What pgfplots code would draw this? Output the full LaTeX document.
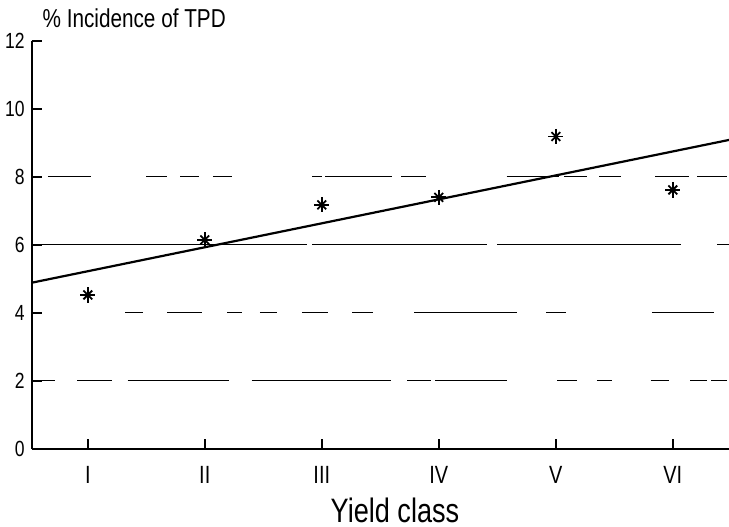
\documentclass[border=0pt]{standalone}
\usepackage{fontspec}
\setmainfont{Liberation Sans}[FakeStretch=0.8]
\usepackage{pgfplots}
\pgfplotsset{compat=1.18}
\begin{document}
\begin{tikzpicture}
\useasboundingbox (-15.8bp,-39bp) rectangle (348.7bp,224.5bp);
\begin{axis}[
  at={(0,0)}, anchor=south west,
  scale only axis, width=348.7bp, height=204bp,
  xmin=0.52, xmax=6.48, ymin=0, ymax=12,
  axis x line*=bottom, axis y line*=left,
  axis line style={line width=1bp, -},
  xtick={1,2,3,4,5,6}, xticklabels={I,II,III,IV,V,VI},
  ytick={0,2,4,6,8,10,12},
  tick align=inside, major tick length=5bp,
  tick style={black, line width=0.8bp},
  /pgf/number format/assume math mode=true,
  yticklabel style={font=\fontsize{11}{13}\selectfont},
  xticklabel style={font=\fontsize{12.5}{14}\selectfont, yshift=-5bp},
  unbounded coords=jump,
]
% broken horizontal guide lines
\addplot[black, line width=0.5bp] coordinates {
 (0.66,8) (1.03,8) (1.2,nan) (1.50,8) (1.68,8) (1.7,nan) (1.79,8) (1.95,8) (2.0,nan)
 (2.07,8) (2.23,8) (2.5,nan) (2.92,8) (3.00,8) (3.01,nan) (3.03,8) (3.60,8) (3.65,nan)
 (3.68,8) (3.89,8) (4.2,nan) (4.58,8) (5.03,8) (5.05,nan) (5.07,8) (5.27,8) (5.3,nan)
 (5.37,8) (5.56,8) (5.7,nan) (5.85,8) (6.14,8) (6.17,nan) (6.21,8) (6.46,8)};
\addplot[black, line width=0.5bp] coordinates {
 (0.59,6) (2.87,6) (2.9,nan) (2.92,6) (4.41,6) (4.45,nan) (4.50,6) (6.07,6) (6.2,nan) (6.38,6) (6.48,6)};
\addplot[black, line width=0.5bp] coordinates {
 (1.32,4) (1.47,4) (1.5,nan) (1.68,4) (1.98,4) (2.1,nan) (2.19,4) (2.32,4) (2.4,nan)
 (2.47,4) (2.62,4) (2.7,nan) (2.83,4) (3.05,4) (3.1,nan) (3.26,4) (3.44,4) (3.6,nan)
 (3.79,4) (4.67,4) (4.8,nan) (4.92,4) (5.09,4) (5.5,nan) (5.82,4) (6.35,4)};
\addplot[black, line width=0.5bp] coordinates {
 (0.59,2) (0.72,2) (0.8,nan) (0.91,2) (1.21,2) (1.3,nan) (1.34,2) (2.21,2) (2.3,nan)
 (2.40,2) (3.59,2) (3.65,nan) (3.73,2) (3.93,2) (3.95,nan) (3.97,2) (4.58,2) (4.8,nan)
 (5.01,2) (5.18,2) (5.3,nan) (5.35,2) (5.48,2) (5.6,nan) (5.81,2) (5.97,2) (6.1,nan)
 (6.15,2) (6.29,2) (6.31,nan) (6.33,2) (6.46,2)};
% regression line
\addplot[black, line width=1.1bp] coordinates {(0.52,4.89) (6.48,9.09)};
% observed values
\addplot[only marks, mark=+, mark size=3.8bp, mark options={line width=0.9bp}] coordinates {
 (1,4.53) (2,6.15) (3,7.18) (4,7.4) (5,9.19) (6,7.62)};
\addplot[only marks, mark=x, mark size=3.1bp, mark options={line width=0.9bp}] coordinates {
 (1,4.53) (2,6.15) (3,7.18) (4,7.4) (5,9.19) (6,7.62)};
\end{axis}
\node[anchor=west, font=\fontsize{13}{15}\selectfont] at (2bp,215.5bp) {\% Incidence of TPD};
\node[font=\fontsize{17}{20}\selectfont] at (181.7bp,-30.5bp) {Yield class};
\end{tikzpicture}
\end{document}
